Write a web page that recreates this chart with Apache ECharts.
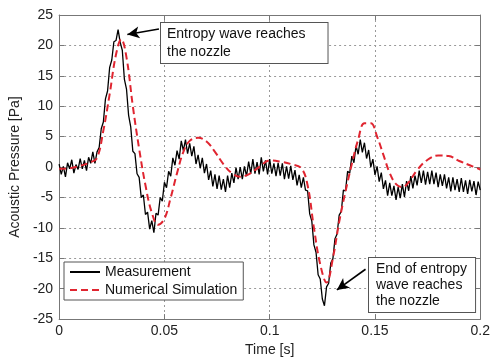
<!DOCTYPE html>
<html>
<head>
<meta charset="utf-8">
<script src="https://cdn.jsdelivr.net/npm/echarts@6/dist/echarts.min.js"></script>
<style>
  html, body { margin: 0; padding: 0; background: #fff; }
  #main { width: 493px; height: 362px; }
</style>
</head>
<body>
<div id="main"></div>
<script>
// measurement: sampled every 1 ms from t = 0
const measStart = 0;
const measStep = 0.001;
const measValues = [
  0.5, -1.2, 0.1, -1.6, 0.7, -0.3, 1.2, -1.0, 0.4, -0.4,
  1.4, -0.3, 1.1, -0.6, 1.6, 0.6, 2.5, 0.6, 2.5, 3.2,
  6.3, 7.4, 11.2, 12.5, 16.4, 17.6, 20.6, 20.8, 22.6, 20.5,
  19.2, 14.4, 12.8, 8.5, 6.6, 2.6, 2.2, -1.1, -1.7, -5.0,
  -4.6, -7.8, -7.4, -10.2, -8.8, -10.8, -7.6, -7.9, -5.0, -5.6,
  -2.5, -3.4, -0.7, -1.5, 1.5, 0.3, 2.7, 1.3, 4.3, 2.7,
  4.5, 2.2, 3.9, 1.8, 3.4, 0.5, 2.0, -0.2, 1.5, -1.0,
  0.5, -2.1, -0.6, -3.2, -1.2, -3.6, -1.4, -3.7, -2.0, -4.1,
  -1.4, -3.4, -1.0, -2.6, -0.1, -2.0, 0.0, -2.0, 0.1, -1.5,
  0.9, -1.1, 1.3, -1.1, 0.8, -1.2, 1.6, -0.7, 1.1, -1.2,
  1.3, -1.1, 0.6, -1.5, 0.7, -1.4, 0.6, -2.0, 0.1, -1.9,
  0.2, -2.1, -0.5, -3.0, -1.3, -3.4, -1.7, -3.8, -3.9, -7.7,
  -8.9, -12.8, -14.0, -17.7, -18.4, -21.7, -22.8, -19.7, -19.1, -15.8,
  -15.1, -11.8, -11.0, -7.9, -7.3, -3.8, -3.9, -0.7, -1.0, 1.8,
  0.7, 3.5, 2.1, 4.5, 2.4, 4.0, 1.4, 2.8, 0.0, 1.3,
  -1.3, 0.1, -2.4, -0.9, -3.6, -2.2, -4.7, -2.6, -4.7, -3.1,
  -5.4, -3.3, -5.1, -2.8, -4.9, -2.3, -3.9, -1.5, -3.5, -1.4,
  -3.0, -0.6, -2.6, -0.6, -2.9, -0.8, -2.8, -0.6, -2.8, -0.9,
  -3.3, -1.2, -3.1, -1.2, -3.5, -1.7, -4.0, -1.7, -3.8, -2.0,
  -4.1, -1.8, -4.1, -2.2, -4.4, -2.1, -4.0, -2.3, -4.6, -2.4, -3.8
];

// numerical simulation
const simTimes = [
  0, 0.005, 0.010, 0.015, 0.018, 0.021, 0.024, 0.027, 0.0295, 0.032,
  0.035, 0.038, 0.041, 0.044, 0.047, 0.050, 0.053, 0.056, 0.059, 0.062,
  0.066, 0.070, 0.074, 0.078, 0.082, 0.086, 0.090, 0.095, 0.100, 0.105,
  0.110, 0.115, 0.118, 0.121, 0.124, 0.127, 0.130, 0.133, 0.136, 0.139,
  0.142, 0.145, 0.148, 0.151, 0.154, 0.157, 0.160, 0.163, 0.166, 0.170,
  0.175, 0.180, 0.185, 0.190, 0.195, 0.200
];
const simValues = [
  -0.3, -0.2, 0.2, 0.8, 1.5, 6, 12, 18.5, 21, 18,
  10, 3, -3, -7.5, -9.5, -8.5, -5, -1, 2.5, 4.3,
  4.8, 4.2, 2.5, 0.5, -1, -1.6, -1.2, 0, 1.1, 0.9,
  0.5, -0.2, -3, -10, -16, -19, -15, -9, -4, 0.5,
  4.5, 7.2, 7.2, 5, 2, -1, -2.8, -3.3, -2.5, -0.5,
  1.2, 1.9, 1.8, 1.0, 0.3, -0.4
];

const yTicks = { min: -25, max: 25, step: 5 };
const xTicks = { min: 0, max: 0.2, step: 0.05 };

const measData = measValues.map((v, i) => [measStart + i * measStep, v]);
const simData = simTimes.map((t, i) => [t, simValues[i]]);

const font = 'Liberation Sans, Arial, Helvetica, sans-serif';
const boxColor = '#777';
const gridLine = { show: true, lineStyle: { color: '#999', type: [2, 3], width: 1 } };

const baseX = {
  type: 'value', min: xTicks.min, max: xTicks.max, interval: xTicks.step,
  axisLine: { show: true, onZero: false, lineStyle: { color: boxColor } },
  axisTick: { show: true, inside: true, length: 5, lineStyle: { color: boxColor } }
};
const baseY = {
  type: 'value', min: yTicks.min, max: yTicks.max, interval: yTicks.step,
  axisLine: { show: true, onZero: false, lineStyle: { color: boxColor } },
  axisTick: { show: true, inside: true, length: 5, lineStyle: { color: boxColor } }
};

const chart = echarts.init(document.getElementById('main'));
chart.setOption({
  animation: false,
  backgroundColor: '#fff',
  textStyle: { fontFamily: font },
  grid: { left: 56, right: 11, top: 15, bottom: 37 },
  xAxis: [
    Object.assign({}, baseX, {
      position: 'bottom',
      name: 'Time [s]', nameLocation: 'middle', nameGap: 20,
      nameTextStyle: { fontSize: 14, color: '#222', fontFamily: font },
      axisLabel: { fontSize: 14, color: '#222', margin: 5, fontFamily: font },
      splitLine: gridLine
    }),
    Object.assign({}, baseX, {
      position: 'top', axisLabel: { show: false }, splitLine: { show: false }
    })
  ],
  yAxis: [
    Object.assign({}, baseY, {
      position: 'left',
      name: 'Acoustic Pressure [Pa]', nameLocation: 'middle', nameGap: 33,
      nameTextStyle: { fontSize: 14, color: '#222', fontFamily: font },
      axisLabel: { fontSize: 14, color: '#222', margin: 6, fontFamily: font },
      splitLine: gridLine
    }),
    Object.assign({}, baseY, {
      position: 'right', axisLabel: { show: false }, splitLine: { show: false }
    })
  ],
  legend: {
    orient: 'vertical',
    left: 64, top: 262,
    padding: [3, 6, 3, 5],
    itemWidth: 30, itemHeight: 14, itemGap: 4,
    backgroundColor: '#fff',
    borderColor: '#555', borderWidth: 1,
    itemStyle: { opacity: 0 },
    textStyle: { fontSize: 14, color: '#111', fontFamily: font },
    data: ['Measurement', 'Numerical Simulation']
  },
  series: [
    {
      name: 'Measurement',
      type: 'line',
      data: measData,
      symbol: 'none',
      color: '#000',
      lineStyle: { color: '#000', width: 1.3 },
      z: 3,
      markLine: {
        silent: true,
        symbol: ['none', 'arrow'],
        symbolSize: [9, 12],
        label: { show: false },
        lineStyle: { color: '#000', width: 1.6, type: 'solid' },
        data: [
          [{ coord: [0.0474, 22.7] }, { coord: [0.0324, 21.8] }],
          [{ coord: [0.1455, -16.8] }, { coord: [0.1319, -20.2] }]
        ]
      }
    },
    {
      name: 'Numerical Simulation',
      type: 'line',
      data: simData,
      smooth: 0.4,
      symbol: 'none',
      color: '#e02530',
      lineStyle: { color: '#e02530', width: 2, type: [7, 4] },
      z: 4
    }
  ],
  graphic: [
    {
      type: 'text', left: 160, top: 22, z: 10,
      style: {
        text: 'Entropy wave reaches\nthe nozzle',
        font: '14px ' + font, fill: '#111', lineHeight: 18,
        backgroundColor: '#fff', borderColor: '#555', borderWidth: 1,
        padding: [2, 22, 2, 6]
      }
    },
    {
      type: 'text', left: 368, top: 257, z: 10,
      style: {
        text: 'End of entropy\nwave reaches\nthe nozzle',
        font: '14px ' + font, fill: '#111', lineHeight: 16,
        backgroundColor: '#fff', borderColor: '#555', borderWidth: 1,
        padding: [3, 8, 3, 7]
      }
    }
  ]
});
</script>
</body>
</html>
